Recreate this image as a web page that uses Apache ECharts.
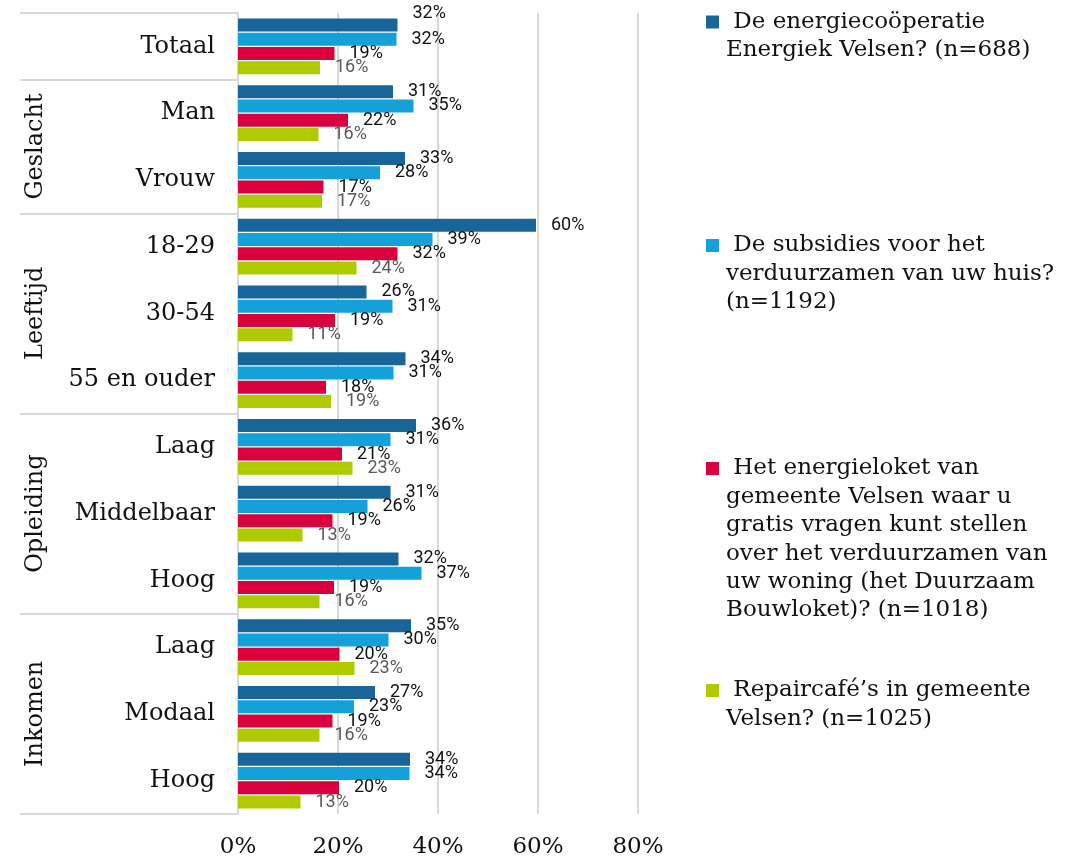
<!DOCTYPE html>
<html>
<head>
<meta charset="utf-8">
<script src="https://cdn.jsdelivr.net/npm/echarts@6/dist/echarts.min.js"></script>
<style>
html,body{margin:0;padding:0;background:#fff;}
#chart{width:1081px;height:859px;}
</style>
</head>
<body>
<div id="chart"></div>
<script>
// ---- data ----
var categories = ['Totaal', 'Man', 'Vrouw', '18-29', '30-54', '55 en ouder', 'Laag', 'Middelbaar', 'Hoog', 'Laag', 'Modaal', 'Hoog'];
var groupNames = ['Geslacht', 'Leeftijd', 'Opleiding', 'Inkomen'];
var groupCenters = [10, 7.5, 4.5, 1.5];          // position on the 0..12 row scale (bottom = 0)
var groupBoundaries = [0, 3, 6, 9, 11, 12];
var seriesNames = [
  'De energiecoöperatie Energiek Velsen? (n=688)',
  'De subsidies voor het verduurzamen van uw huis? (n=1192)',
  'Het energieloket van gemeente Velsen waar u gratis vragen kunt stellen over het verduurzamen van uw woning (het Duurzaam Bouwloket)? (n=1018)',
  'Repaircafé’s in gemeente Velsen? (n=1025)'
];
var legendLines = [
  [' De energiecoöperatie', 'Energiek Velsen? (n=688)'],
  [' De subsidies voor het', 'verduurzamen van uw huis?', '(n=1192)'],
  [' Het energieloket van', 'gemeente Velsen waar u', 'gratis vragen kunt stellen', 'over het verduurzamen van', 'uw woning (het Duurzaam', 'Bouwloket)? (n=1018)'],
  [' Repaircafé’s in gemeente', 'Velsen? (n=1025)']
];
var energiek   = [31.9, 31.0, 33.4, 59.6, 25.7, 33.5, 35.6, 30.5, 32.1, 34.6, 27.4, 34.4];
var subsidies  = [31.7, 35.1, 28.4, 38.9, 30.9, 31.1, 30.5, 25.9, 36.7, 30.1, 23.2, 34.3];
var loket      = [19.3, 22.0, 17.1, 31.9, 19.4, 17.6, 20.8, 18.9, 19.2, 20.3, 18.9, 20.2];
var repaircafe = [16.4, 16.1, 16.8, 23.7, 10.9, 18.6, 22.9, 12.9, 16.3, 23.3, 16.3, 12.5];
var xTicks = [0, 20, 40, 60, 80];

var colors = ['#186699', '#14a0d8', '#da003d', '#afcb00'];
var labelColors = ['#111111', '#111111', '#111111', '#595959'];
var serif = "'DejaVu Serif', serif";
var sans = "Roboto, 'Noto Sans', sans-serif";

var chart = echarts.init(document.getElementById('chart'), null, {renderer: 'canvas'});

var allValues = [energiek, subsidies, loket, repaircafe];
var series = allValues.map(function (vals, si) {
  return {
    name: seriesNames[si],
    type: 'bar',
    yAxisIndex: 0,
    barWidth: 13,
    barGap: '10%',
    itemStyle: {color: colors[si]},
    label: {
      show: true,
      position: 'right',
      distance: 15,
      fontFamily: sans,
      fontSize: 18,
      color: labelColors[si],
      formatter: function (p) { return Math.round(p.value) + '%'; }
    },
    data: vals.map(function (v, i) {
      if (si === 0 && i === 0) {
        return {value: v, label: {offset: [0, -11]}};
      }
      return v;
    })
  };
});

var L = 28.4;
var iconCenters = [22, 245.5, 468.5, 690.5];
var legends = seriesNames.map(function (name, i) {
  var lines = legendLines[i];
  var n = lines.length;
  // blank lines before the text keep the marker level with the first line
  var blanks = [];
  for (var k = 0; k < n - 1; k++) blanks.push('');
  var text = blanks.concat(lines).join('\n');
  return {
    show: true,
    left: 706,
    top: iconCenters[i] - (2 * n - 1) * L / 2,
    orient: 'vertical',
    padding: 0,
    itemWidth: 13,
    itemHeight: 13,
    icon: 'rect',
    selectedMode: false,
    data: [name],
    formatter: function () { return text; },
    textStyle: {
      fontFamily: serif,
      fontSize: 23,
      lineHeight: L,
      color: '#111111',
      padding: [0, 0, 0, 2]
    }
  };
});

chart.setOption({
  animation: false,
  backgroundColor: '#ffffff',
  grid: {left: 238, right: 443, top: 13, bottom: 44, containLabel: false},
  legend: legends,
  xAxis: {
    type: 'value',
    min: xTicks[0],
    max: xTicks[xTicks.length - 1],
    interval: 20,
    axisLine: {show: false},
    axisTick: {show: false},
    splitLine: {show: true, lineStyle: {color: '#d9d9d9', width: 2}},
    axisLabel: {
      formatter: '{value}%',
      fontFamily: serif,
      fontSize: 23,
      color: '#111111',
      margin: 22
    }
  },
  yAxis: [
    {
      type: 'category',
      inverse: true,
      data: categories,
      position: 'left',
      axisLine: {show: true, lineStyle: {color: '#d9d9d9', width: 2}},
      axisTick: {show: false},
      axisLabel: {
        fontFamily: serif,
        fontSize: 24,
        color: '#111111',
        margin: 23
      }
    },
    {
      type: 'value',
      min: 0,
      max: 12,
      position: 'left',
      splitLine: {show: false},
      axisLine: {show: false},
      axisTick: {
        show: true,
        customValues: groupBoundaries,
        length: 218,
        lineStyle: {color: '#d9d9d9', width: 2}
      },
      axisLabel: {
        show: true,
        customValues: groupCenters,
        rotate: 90,
        margin: 190,
        fontFamily: serif,
        fontSize: 24,
        color: '#111111',
        formatter: function (v) {
          var idx = groupCenters.indexOf(v);
          return idx >= 0 ? groupNames[idx] : '';
        }
      }
    }
  ],
  series: series
});
</script>
</body>
</html>
